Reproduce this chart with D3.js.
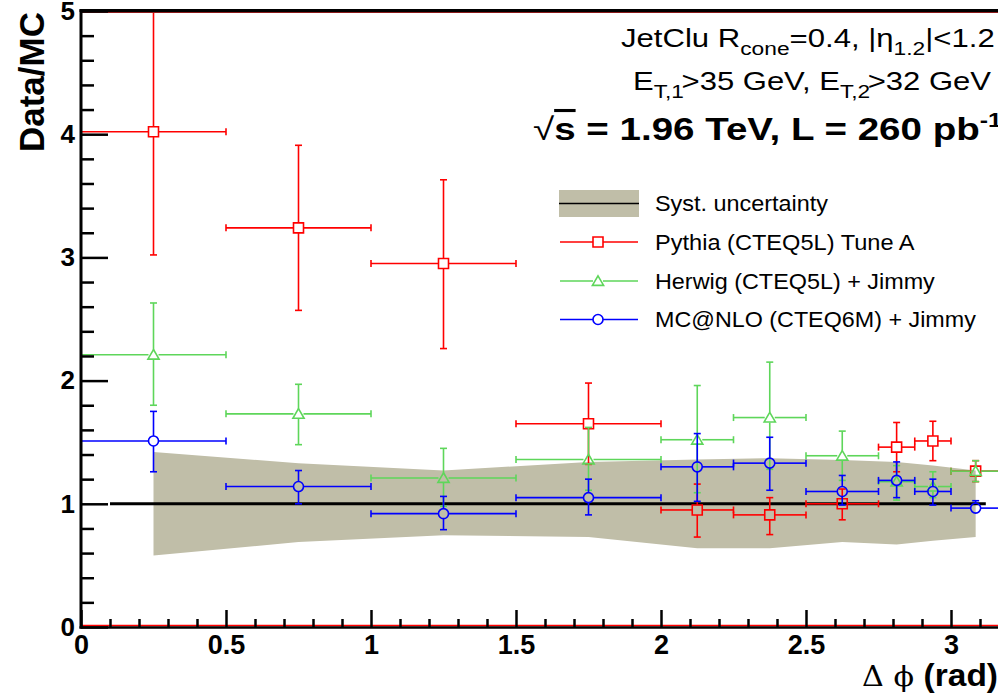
<!DOCTYPE html>
<html><head><meta charset="utf-8">
<script src="https://cdn.jsdelivr.net/npm/d3@7"></script>
<style>
body{margin:0;background:#fff}
svg{display:block}
text{font-family:"Liberation Sans",Arial,Helvetica,sans-serif}
</style>
</head><body>
<svg id="c" width="998" height="693"></svg>
<script>
// ---------------- data ----------------
const binCenter = [0.25, 0.75, 1.25, 1.75, 2.125, 2.375, 2.625, 2.8125, 2.9375, 3.085];
const binLow    = [0, 0.5, 1, 1.5, 2, 2.25, 2.5, 2.75, 2.875, 3.0];
const binHigh   = [0.5, 1, 1.5, 2, 2.25, 2.5, 2.75, 2.875, 3.0, 3.17];

const pythiaY   = [4.02, 3.24, 2.95, 1.65, 0.95, 0.91, 1.00, 1.46, 1.51, 1.265];
const pythiaUp  = [5.00, 3.91, 3.63, 1.98, 1.16, 1.05, 1.12, 1.66, 1.67, 1.35];
const pythiaDn  = [3.02, 2.57, 2.26, 1.32, 0.73, 0.75, 0.87, 1.26, 1.35, 1.18];

const herwigY   = [2.21, 1.73, 1.21, 1.36, 1.52, 1.70, 1.39, 1.18, 1.14, 1.265];
const herwigUp  = [2.63, 1.97, 1.45, 1.62, 1.96, 2.15, 1.59, 1.31, 1.26, 1.35];
const herwigDn  = [1.80, 1.48, 0.98, 1.11, 1.09, 1.28, 1.19, 1.03, 1.05, 1.18];

const mcnloY    = [1.51, 1.14, 0.92, 1.05, 1.30, 1.33, 1.10, 1.19, 1.10, 0.965];
const mcnloUp   = [1.75, 1.27, 1.06, 1.20, 1.57, 1.54, 1.23, 1.34, 1.20, 1.025];
const mcnloDn   = [1.26, 1.00, 0.79, 0.91, 1.02, 1.11, 0.99, 1.05, 0.99, 0.925];

const systUpper = [1.42, 1.33, 1.27, 1.34, 1.36, 1.37, 1.355, 1.34, 1.31, 1.27];
const systLower = [0.58, 0.69, 0.745, 0.73, 0.64, 0.64, 0.69, 0.67, 0.70, 0.73];

const xMajorTicks = [0, 0.5, 1, 1.5, 2, 2.5, 3];
const yMajorTicks = [0, 1, 2, 3, 4, 5];

const legendLabels = ["Syst. uncertainty", "Pythia (CTEQ5L) Tune A", "Herwig (CTEQ5L) + Jimmy", "MC@NLO (CTEQ6M) + Jimmy"];

// ---------------- setup ----------------
const svg = d3.select("#c");
const X0 = 81, Y0 = 627, YTOP = 11;
const x = d3.scaleLinear().domain([0, 3.3]).range([X0, X0 + 3.3 * 290]);
const y = d3.scaleLinear().domain([0, 5]).range([Y0, YTOP]);

const RED = "#ff0000", GREEN = "#5ed65a", BLUE = "#0000ff", BAND = "#c0bea8";

// stretch a text horizontally so that it spans [left, right]
function fitWidth(sel, left, right) {
  const b = sel.node().getBBox();
  const s = (right - left) / b.width;
  sel.attr("transform", `translate(${left},0) scale(${s},1) translate(${-b.x},0)`);
}

// syst band
const bandPts = binCenter.map((c, i) => [x(c), y(systUpper[i])])
  .concat(binCenter.map((c, i) => [x(c), y(systLower[i])]).reverse());
svg.append("path").attr("d", d3.line()(bandPts) + "Z").attr("fill", BAND);

// reference line at 1
svg.append("line").attr("x1", x(0.1)).attr("x2", x(3.12))
  .attr("y1", y(1)).attr("y2", y(1)).attr("stroke", "#000").attr("stroke-width", 3);

// ---------------- series ----------------
function markerD(kind) {
  if (kind === "square") return "M-5,-5H5V5H-5Z";
  if (kind === "triangle") return "M0,-5.2L5.6,4.4H-5.6Z";
  return "M5,0A5,5 0 1,1 -5,0A5,5 0 1,1 5,0Z";
}

function drawSeries(vals, ups, dns, color, kind) {
  const g = svg.append("g").attr("stroke", color).attr("stroke-width", 1.6).attr("fill", "none");
  const H = 5, C = 3.5;
  binCenter.forEach((c, i) => {
    const cx = x(c), cy = y(vals[i]);
    const yu = y(ups[i]), yd = y(dns[i]);
    const xl = x(binLow[i]), xh = x(binHigh[i]);
    if (cy - H > yu) {
      g.append("line").attr("x1", cx).attr("x2", cx).attr("y1", yu).attr("y2", cy - H);
      g.append("line").attr("x1", cx - C).attr("x2", cx + C).attr("y1", yu).attr("y2", yu);
    }
    if (cy + H < yd) {
      g.append("line").attr("x1", cx).attr("x2", cx).attr("y1", cy + H).attr("y2", yd);
      g.append("line").attr("x1", cx - C).attr("x2", cx + C).attr("y1", yd).attr("y2", yd);
    }
    g.append("line").attr("x1", xl).attr("x2", cx - H).attr("y1", cy).attr("y2", cy);
    g.append("line").attr("x1", cx + H).attr("x2", xh).attr("y1", cy).attr("y2", cy);
    g.append("line").attr("x1", xl).attr("x2", xl).attr("y1", cy - C).attr("y2", cy + C);
    g.append("line").attr("x1", xh).attr("x2", xh).attr("y1", cy - C).attr("y2", cy + C);
    g.append("path").attr("d", markerD(kind)).attr("transform", `translate(${cx},${cy})`);
  });
}
drawSeries(pythiaY, pythiaUp, pythiaDn, RED, "square");
drawSeries(herwigY, herwigUp, herwigDn, GREEN, "triangle");
drawSeries(mcnloY, mcnloUp, mcnloDn, BLUE, "circle");

// ---------------- axes ----------------
const fmt = d => d3.format("")(d);
const xMinor = d3.range(0, 33).map(i => i / 10).filter(v => Math.abs(v * 2 - Math.round(v * 2)) > 1e-6);
const yMinor = d3.range(0, 26).map(i => i / 5).filter(v => Math.abs(v - Math.round(v)) > 1e-6);

svg.append("line").attr("x1", X0).attr("x2", 998).attr("y1", Y0 - 1.5).attr("y2", Y0 - 1.5)
  .attr("stroke", RED).attr("stroke-width", 1.5);
svg.append("line").attr("x1", X0).attr("x2", 998).attr("y1", YTOP + 1.5).attr("y2", YTOP + 1.5)
  .attr("stroke", "#8b1a1a").attr("stroke-width", 1.2);

const gx = svg.append("g").attr("transform", `translate(0,${Y0})`)
  .call(d3.axisBottom(x).tickValues(xMajorTicks).tickSize(-17).tickPadding(8).tickFormat(fmt));
const gxm = svg.append("g").attr("transform", `translate(0,${Y0})`)
  .call(d3.axisBottom(x).tickValues(xMinor).tickSize(-8).tickFormat(""));
const gy = svg.append("g").attr("transform", `translate(${X0},0)`)
  .call(d3.axisLeft(y).tickValues(yMajorTicks).tickSize(-27).tickPadding(6).tickFormat(fmt));
const gym = svg.append("g").attr("transform", `translate(${X0},0)`)
  .call(d3.axisLeft(y).tickValues(yMinor).tickSize(-13).tickFormat(""));
[gx, gxm, gy, gym].forEach(g => {
  g.select(".domain").remove();
  g.selectAll(".tick line").attr("stroke", "#000").attr("stroke-width", 2.5);
  g.selectAll("text").attr("fill", "#000").attr("font-weight", "bold")
    .style("font-family", '"Liberation Sans",Arial,sans-serif');
});
gx.selectAll("text").attr("font-size", 27);
gy.selectAll("text").attr("font-size", 26);

// frame
svg.append("line").attr("x1", X0).attr("x2", X0).attr("y1", YTOP - 1.5).attr("y2", Y0 + 1.5)
  .attr("stroke", "#000").attr("stroke-width", 3);
svg.append("line").attr("x1", X0 - 1.5).attr("x2", 998).attr("y1", Y0 + 0.5).attr("y2", Y0 + 0.5)
  .attr("stroke", "#000").attr("stroke-width", 2.5);
svg.append("line").attr("x1", X0 - 1.5).attr("x2", 998).attr("y1", YTOP - 0.5).attr("y2", YTOP - 0.5)
  .attr("stroke", "#000").attr("stroke-width", 3);

// axis titles
svg.append("text").attr("transform", "translate(44,12) rotate(-90)")
  .attr("text-anchor", "end").attr("font-weight", "bold").attr("font-size", 35).text("Data/MC");
const xt = svg.append("text").attr("x", 860).attr("y", 686).attr("font-size", 31);
xt.append("tspan").attr("font-family", '"DejaVu Serif",serif').attr("font-size", 28).text("Δ ϕ ");
xt.append("tspan").attr("font-weight", "bold").text("(rad)");
fitWidth(xt, 862, 998);

// top-right annotations
const t1 = svg.append("text").attr("x", 600).attr("y", 47).attr("font-size", 26);
t1.append("tspan").text("JetClu R");
t1.append("tspan").attr("font-size", 19).attr("dy", 8).text("cone");
t1.append("tspan").attr("dy", -8).text("=0.4, |η");
t1.append("tspan").attr("font-size", 19).attr("dy", 8).text("1.2");
t1.append("tspan").attr("dy", -8).text("|<1.2");
fitWidth(t1, 621, 995);

const t2 = svg.append("text").attr("x", 600).attr("y", 90).attr("font-size", 26);
t2.append("tspan").text("E");
t2.append("tspan").attr("font-size", 19).attr("dy", 8).text("T,1");
t2.append("tspan").attr("dy", -8).attr("dx", -2).text(">35 GeV, E");
t2.append("tspan").attr("font-size", 19).attr("dy", 8).text("T,2");
t2.append("tspan").attr("dy", -8).attr("dx", -2).text(">32 GeV");
fitWidth(t2, 633, 992);

const t3 = svg.append("text").attr("x", 500).attr("y", 140)
  .attr("font-size", 31).attr("font-weight", "bold");
t3.append("tspan").attr("font-weight", "normal").text("√");
t3.append("tspan").style("text-decoration", "overline").text("s");
t3.append("tspan").text(" = 1.96 TeV, L = 260 pb");
t3.append("tspan").attr("font-size", 20).attr("dy", -13).text("-1");
fitWidth(t3, 533, 1002);

// ---------------- legend ----------------
const lg = svg.append("g");
const rowY = [203.5, 242, 281, 319.5];
const rowEnd = [828, 915, 935, 976];
lg.append("rect").attr("x", 559).attr("y", 190).attr("width", 80).attr("height", 27).attr("fill", BAND);
lg.append("line").attr("x1", 559).attr("x2", 639).attr("y1", rowY[0]).attr("y2", rowY[0])
  .attr("stroke", "#000").attr("stroke-width", 1.5);
[[RED, "square"], [GREEN, "triangle"], [BLUE, "circle"]].forEach(([col, kind], i) => {
  const yy = rowY[i + 1];
  lg.append("line").attr("x1", 560).attr("x2", 593).attr("y1", yy).attr("y2", yy).attr("stroke", col).attr("stroke-width", 1.6);
  lg.append("line").attr("x1", 603).attr("x2", 638).attr("y1", yy).attr("y2", yy).attr("stroke", col).attr("stroke-width", 1.6);
  lg.append("path").attr("d", markerD(kind)).attr("transform", `translate(598,${yy})`)
    .attr("fill", "none").attr("stroke", col).attr("stroke-width", 1.6);
});
legendLabels.forEach((s, i) => {
  const t = lg.append("text").attr("x", 655).attr("y", rowY[i]).attr("dy", "0.36em").attr("font-size", 22).text(s);
  fitWidth(t, 655, rowEnd[i]);
});
</script>
</body></html>
